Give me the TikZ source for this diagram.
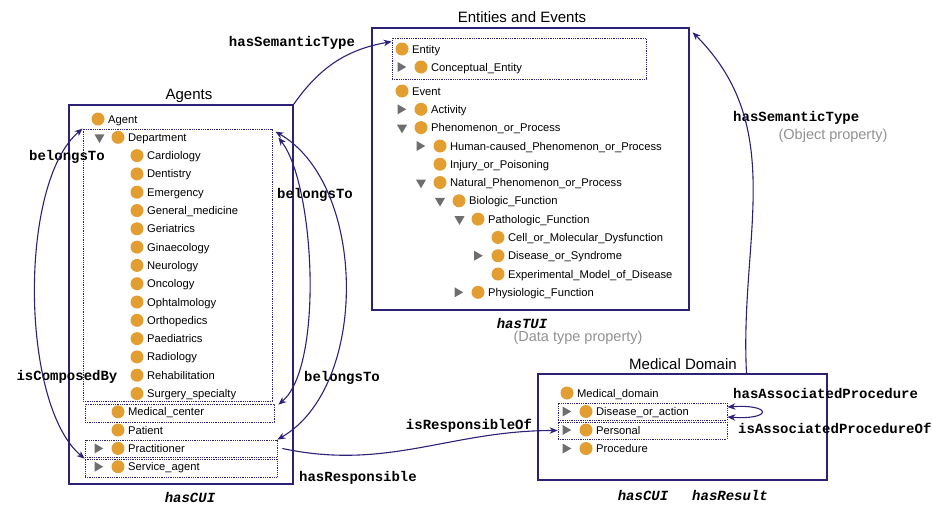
\documentclass[tikz,border=0pt]{standalone}
\usepackage{fontspec}
\setmainfont{Liberation Sans}
\setmonofont{Liberation Mono}
\usepackage{tikz}
\usetikzlibrary{arrows.meta,shapes.geometric,fit}
\definecolor{ddnavy}{RGB}{43,33,118}
\definecolor{ddorange}{RGB}{226,158,48}
\definecolor{ddgray}{RGB}{110,110,110}
\definecolor{ddlightgray}{RGB}{145,145,145}
\tikzstyle{link} = [line width=1.1pt,>={Stealth[length=8pt,width=6.5pt]},color=ddnavy]
\tikzstyle{panel} = [rectangle, draw=ddnavy, line width=1.3pt, inner sep=0pt]
\tikzstyle{dotbox} = [rectangle, draw=ddnavy, densely dotted, line width=0.8pt, inner sep=0pt]
\tikzstyle{title} = [font=\fontsize{15}{18}\selectfont, inner sep=0pt]
\tikzstyle{item} = [font=\fontsize{11.2}{13}\selectfont, text height=8.1pt, text depth=0pt, inner sep=3.2pt]
\tikzstyle{prop} = [font=\fontsize{14}{16}\selectfont\ttfamily\bfseries, inner sep=0pt]
\tikzstyle{dprop} = [font=\fontsize{14}{16}\selectfont\ttfamily\bfseries\itshape, inner sep=0pt]
\tikzstyle{note} = [font=\fontsize{14.5}{17}\selectfont, text=ddlightgray, inner sep=0pt]
\tikzstyle{collapsed} = [regular polygon, regular polygon sides=3, shape border rotate=-90, fill=ddgray, inner sep=0pt, minimum size=11.5pt]
\tikzstyle{expanded} = [regular polygon, regular polygon sides=3, shape border rotate=180, fill=ddgray, inner sep=0pt, minimum size=11.5pt]
\tikzset{cls/.style={circle, fill=ddorange, inner sep=0pt, minimum size=13pt, label={[item]right:#1}}}

\begin{document}
\begin{tikzpicture}[x=1pt, y=1pt]
\useasboundingbox (0,0) rectangle (932,-507);

% Agents
\node[panel, fit={(69,-105) (293,-484)}] (agents) {};
\node[title] (agentstitle) at (189,-96) {Agents};
\node[dotbox, fit={(83,-129) (272,-401)}] (deptbox) {};
\node[dotbox, fit={(85,-404) (274,-422)}] (mcbox) {};
\node[dotbox, fit={(85,-440) (277,-457)}] (practbox) {};
\node[dotbox, fit={(85,-459) (277,-477)}] (servbox) {};
\node[cls=Agent] (agent) at (98,-119) {};
\node[expanded] (deptarrow) at (99.5,-137.3) {};
\node[cls=Department] (dept) at (118,-137.3) {};
\foreach \d [count=\i] in {Cardiology,Dentistry,Emergency,General\_medicine,Geriatrics,Ginaecology,Neurology,Oncology,Ophtalmology,Orthopedics,Paediatrics,Radiology,Rehabilitation,Surgery\_specialty}
  \node[cls=\d] (dep\i) at (137,-137.3-18.3*\i) {};
\node[cls=Medical\_center] (medcenter) at (118,-411.8) {};
\node[cls=Patient] (patient) at (118,-430) {};
\node[collapsed] (practarrow) at (97.5,-448.4) {};
\node[cls=Practitioner] (pract) at (118,-448.4) {};
\node[collapsed] (servarrow) at (97.5,-466.7) {};
\node[cls=Service\_agent] (serv) at (118,-466.7) {};

% Entities and events
\node[panel, fit={(372,-28) (689,-310)}] (entev) {};
\node[title] (entevtitle) at (522,-17) {Entities and Events};
\node[dotbox, fit={(392,-38) (646,-79)}] (entitybox) {};
\node[cls=Entity] (entity) at (402,-49) {};
\node[collapsed] (concarrow) at (400.5,-67) {};
\node[cls=Conceptual\_Entity] (concent) at (421,-67) {};
\node[cls=Event] (event) at (402,-91) {};
\node[collapsed] (actarrow) at (400.5,-109.3) {};
\node[cls=Activity] (activity) at (421,-109.3) {};
\node[expanded] (phenarrow) at (402,-127.6) {};
\node[cls=Phenomenon\_or\_Process] (phen) at (421,-127.6) {};
\node[collapsed] (humarrow) at (419.5,-146) {};
\node[cls=Human-caused\_Phenomenon\_or\_Process] (human) at (440,-146) {};
\node[cls=Injury\_or\_Poisoning] (injury) at (440,-164.2) {};
\node[expanded] (natarrow) at (421,-182.5) {};
\node[cls=Natural\_Phenomenon\_or\_Process] (natural) at (440,-182.5) {};
\node[expanded] (bioarrow) at (440,-200.8) {};
\node[cls=Biologic\_Function] (bio) at (459,-200.8) {};
\node[expanded] (patharrow) at (459.5,-219.1) {};
\node[cls=Pathologic\_Function] (pathfun) at (478,-219.1) {};
\node[cls=Cell\_or\_Molecular\_Dysfunction] (cell) at (498,-237.4) {};
\node[collapsed] (disarrow) at (477,-255.7) {};
\node[cls=Disease\_or\_Syndrome] (dissyn) at (498,-255.7) {};
\node[cls=Experimental\_Model\_of\_Disease] (exper) at (498,-274) {};
\node[collapsed] (physarrow) at (457.5,-292.3) {};
\node[cls=Physiologic\_Function] (phys) at (478,-292.3) {};

% Medical domain
\node[panel, fit={(538,-374) (827,-480)}] (meddom) {};
\node[title] (meddomtitle) at (683,-364) {Medical Domain};
\node[dotbox, fit={(558,-403) (727,-420)}] (disbox) {};
\node[dotbox, fit={(558,-422) (727,-439)}] (persbox) {};
\node[cls=Medical\_domain] (meddomain) at (567,-393) {};
\node[collapsed] (dactarrow) at (565.5,-411.5) {};
\node[cls=Disease\_or\_action] (disact) at (586,-411.5) {};
\node[collapsed] (persarrow) at (565.5,-430) {};
\node[cls=Personal] (personal) at (586,-430) {};
\node[collapsed] (procarrow) at (565.5,-448.5) {};
\node[cls=Procedure] (proc) at (586,-448.5) {};

% Properties
\node[prop] (semtop) at (292,-43) {hasSemanticType};
\node[prop, anchor=west] (semright) at (733,-118) {hasSemanticType};
\node[note] (objprop) at (833,-136) {(Object property)};
\node[prop] (belleft) at (67,-157) {belongsTo};
\node[prop] (composed) at (67,-377) {isComposedBy};
\node[prop, anchor=west] (belright) at (277,-195) {belongsTo};
\node[prop, anchor=west] (belright2) at (304,-378) {belongsTo};
\node[prop] (respof) at (469,-426) {isResponsibleOf};
\node[prop] (hasresp) at (358,-478) {hasResponsible};
\node[prop, anchor=west] (assoc) at (733,-393) {hasAssociatedProcedure};
\node[prop, anchor=west] (assocof) at (738,-428) {isAssociatedProcedureOf};
\node[dprop] (cuiagents) at (190,-497) {hasCUI};
\node[dprop] (tui) at (522,-323) {hasTUI};
\node[note] (dtprop) at (578,-338) {(Data type property)};
\node[dprop] (cuimed) at (643,-495) {hasCUI};
\node[dprop] (result) at (730,-495) {hasResult};

% Arrows
\draw[link, ->] (agents.north east) to[out=55, in=190] ([yshift=-4pt]entitybox.north west);
\draw[link, ->] ([xshift=64pt]meddom.north) to[out=93, in=-45] ([shift={(3pt,-5pt)}]entev.north east);
\draw[link, <->] (deptbox.north west) to[out=220, in=140, looseness=0.65] (servbox.north west);
\draw[link, <->] ([shift={(6pt,-9pt)}]deptbox.north east) to[out=-52, in=40, looseness=0.57] ([shift={(4pt,-1pt)}]mcbox.north east);
\draw[link, <->] ([shift={(3pt,-3pt)}]deptbox.north east) to[out=-30, in=30, looseness=0.88] (practbox.north east);
\draw[link, ->] ([xshift=5pt]practbox.east) to[out=-12, in=180] (persbox.west);
\draw[link, <->] ([yshift=4.5pt]disbox.east) .. controls +(45,3) and +(45,-3) .. ([yshift=-5.5pt]disbox.east);
\end{tikzpicture}
\end{document}
